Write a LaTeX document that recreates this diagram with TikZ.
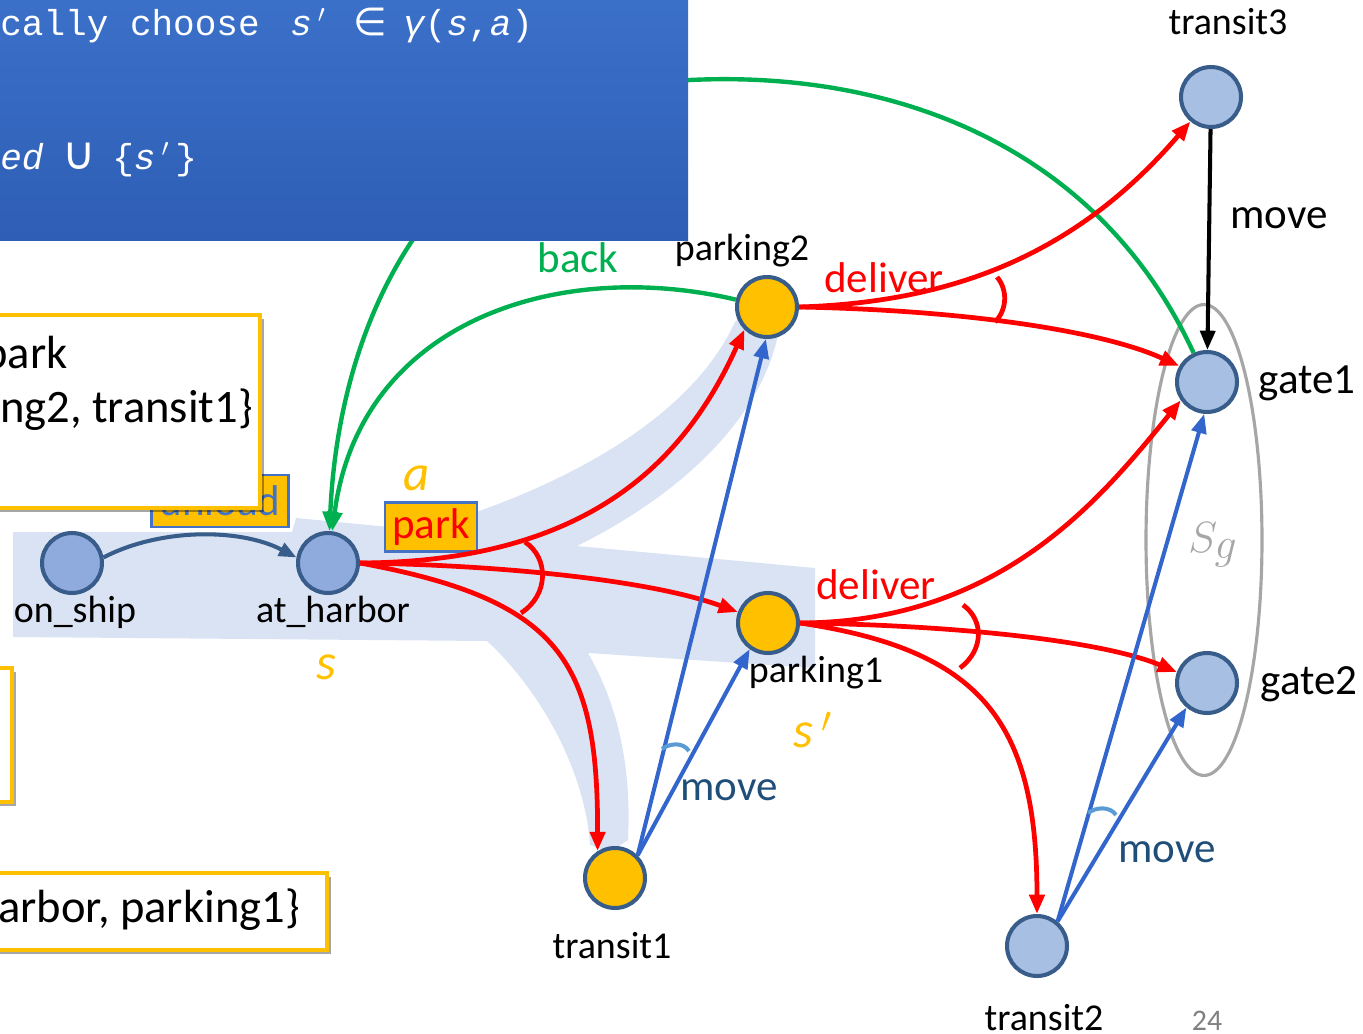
\documentclass[tikz,border=0pt]{standalone}
\usepackage{fontspec}
\setmainfont{Carlito}
\newfontfamily\codefont{Liberation Mono}
\newfontfamily\symfont{DejaVu Sans}
\usetikzlibrary{arrows.meta,shadows,calc}

\definecolor{bandblue}{HTML}{DAE3F3}
\definecolor{nodeedge}{HTML}{385D8A}
\definecolor{stateA}{HTML}{8FAADC}
\definecolor{stateB}{HTML}{A7BFE2}
\definecolor{gold}{HTML}{FFC000}
\definecolor{movblue}{HTML}{3366CC}
\definecolor{arcblue}{HTML}{5B9BD5}
\definecolor{movtext}{HTML}{1F4E79}
\definecolor{backgreen}{HTML}{00B050}
\definecolor{sggray}{HTML}{A6A6A6}
\definecolor{boxtop}{HTML}{3B70C9}
\definecolor{boxbot}{HTML}{2E5EB5}
\definecolor{unloadtxt}{HTML}{4472C4}
\definecolor{pagegray}{HTML}{808080}

\tikzset{
  state/.style={circle, draw=nodeedge, line width=2.3pt, minimum size=1.2cm, inner sep=0pt},
  goalstate/.style={state, fill=stateB},
  hstate/.style={state, fill=stateA},
  picked/.style={state, fill=gold},
  nlabel/.style={font=\fontsize{21.6}{24}\selectfont, inner sep=0pt},
  elabel/.style={font=\fontsize{24.5}{27}\selectfont, inner sep=0pt},
  calltext/.style={anchor=east, font=\fontsize{26.5}{30}\selectfont, inner sep=0pt},
  tip/.style={-{Triangle[length=11pt,width=8.5pt]}},
  redge/.style={draw=red, line width=2.7pt, tip},
  bedge/.style={draw=movblue, line width=2.3pt, tip},
  gedge/.style={draw=backgreen, line width=2.5pt, tip},
  andarc/.style={draw=red, line width=2.7pt},
  movearc/.style={draw=arcblue, line width=2.3pt},
  callout/.style={draw=gold, line width=2.2pt, fill=white,
    drop shadow={shadow xshift=2.5pt, shadow yshift=-2.5pt, fill=black, opacity=0.35}},
  actbox/.style={draw=unloadtxt, line width=1.2pt, fill=gold, inner sep=0pt},
  marker/.style={text=gold, font=\fontsize{29}{32}\selectfont\itshape, inner sep=0pt},
  codeline/.style={text=white, font=\codefont\fontsize{20.5}{24}\selectfont, inner sep=0pt, anchor=base west}
}

\begin{document}
\begin{tikzpicture}[x=0.02cm, y=-0.02cm]
\useasboundingbox (0,0) rectangle (1363,1034);

% highlighted region of explored states, with branches to parking2 and transit1
\fill[bandblue] (13,532) -- (292,532) -- (296,518) -- (420,530)
  .. controls (560,490) and (690,420) .. (735,322) -- (760,300) -- (778,335)
  .. controls (760,420) and (680,495) .. (577,546) -- (815,568) -- (815,668) -- (588,653)
  .. controls (615,700) and (632,760) .. (628,840) -- (610,852) -- (590,845)
  .. controls (585,770) and (540,690) .. (487,641) -- (13,637) -- cycle;

% action boxes
\node[actbox, minimum width=2.74cm, minimum height=1.04cm, text=unloadtxt, font=\fontsize{24.5}{27}\selectfont] (unload) at (220,501) {unload};
\node[actbox, minimum width=1.84cm, minimum height=0.98cm, text=red, font=\fontsize{24.5}{27}\selectfont] (park) at (431,527) {park};

% callouts
\draw[callout] (-20,315) rectangle (260,508);
\node[calltext] (c1a) at (68,356) {park};
\node[calltext] (c1b) at (253,410) {ng2, transit1\}};
\draw[callout] (-20,668) rectangle (12,802);
\draw[callout] (-20,873) rectangle (327,950);
\node[calltext] (c3) at (300,910) {arbor, parking1\}};

% goal set
\draw[sggray, line width=1.8pt] (1204,540) ellipse [x radius=1.16cm, y radius=4.71cm];
\node[text=sggray, font=\fontsize{34}{38}\selectfont, inner sep=0pt] (sg) at (1213,545) {$S_g$};

% states
\node[hstate] (onship) at (72,563) {};
\node[hstate] (harbor) at (328,563) {};
\node[picked] (parking2) at (767,307) {};
\node[picked] (parking1) at (768,623) {};
\node[picked] (transit1) at (615,878) {};
\node[goalstate] (transit3) at (1211,97) {};
\node[goalstate] (gate1) at (1207,382) {};
\node[goalstate] (gate2) at (1207,683) {};
\node[goalstate] (transit2) at (1037,946) {};

% state names
\node[nlabel] (lonship) at (75,612) {on\_ship};
\node[nlabel] (lharbor) at (333,612) {at\_harbor};
\node[nlabel] (lparking2) at (742,251) {parking2};
\node[nlabel] (lparking1) at (816,673) {parking1};
\node[nlabel] (ltransit1) at (612,946) {transit1};
\node[nlabel] (ltransit3) at (1228,22) {transit3};
\node[nlabel] (ltransit2) at (1044,1018) {transit2};
\node[elabel] (lgate1) at (1307,383) {gate1};
\node[elabel] (lgate2) at (1309,684) {gate2};

% back edge from gate1, passing behind the code panel
\draw[gedge] (gate1) .. controls (1100,150) and (900,70) .. (690,80)
                    .. controls (450,100) and (340,300) .. (harbor);

% pseudo-code panel
\shade[top color=boxtop, bottom color=boxbot] (0,0) rectangle (688,240);
\node[codeline] (code1) at (0,36) {cally choose};
\node[codeline] (code2) at (290,36) {{\itshape s}\,$'$};
\node[codeline] (code3) at (353,36) {\symfont\fontsize{22}{24}\selectfont ∈};
\node[codeline] (code4) at (403,36) {{\itshape γ}({\itshape s},{\itshape a})};
\node[codeline] (code5) at (0,170) {\itshape ed};
\node[codeline] (code6) at (62,170) {\symfont\fontsize{26}{28}\selectfont ∪};
\node[codeline] (code7) at (112,170) {\{{\itshape s}\,$'$\,\}};

% back edge from parking2
\draw[gedge] (parking2) .. controls (560,258) and (360,320) .. (harbor);
\node[elabel, text=backgreen] (lback) at (578,258) {back};

% unload
\draw[draw=nodeedge, line width=2.3pt, -{Triangle[length=10pt,width=8pt]}]
  (onship.10) .. controls (160,528) and (240,528) .. (harbor.170);

% park: nondeterministic outcomes
\draw[redge] (harbor.0) .. controls (600,562) and (690,450) .. (parking2.225);
\draw[redge] (harbor.0) .. controls (500,565) and (650,580) .. (parking1.160);
\draw[redge] (harbor.0) .. controls (560,600) and (598,660) .. (transit1.123);
\draw[andarc] (525,542) .. controls (549,558) and (549,595) .. (521,613);

% deliver from parking2
\draw[redge] (parking2.0) .. controls (960,302) and (1080,250) .. (transit3.230);
\draw[redge] (parking2.0) .. controls (960,310) and (1100,330) .. (gate1.150);
\draw[andarc] (997,277) .. controls (1008,290) and (1007,310) .. (995,322);
\node[elabel, text=red] (ldeliver2) at (884,278) {deliver};

% deliver from parking1
\draw[redge] (parking1.0) .. controls (1000,622) and (1100,500) .. (gate1.215);
\draw[redge] (parking1.0) .. controls (950,625) and (1100,640) .. (gate2.160);
\draw[redge] (parking1.0) .. controls (980,650) and (1037,720) .. (transit2.90);
\draw[andarc] (963,605) .. controls (984,620) and (984,650) .. (960,668);
\node[elabel, text=red] (ldeliver1) at (876,585) {deliver};

% move from transit1
\draw[bedge] (transit1.45) -- (parking2.268);
\draw[bedge] (transit1.45) -- (parking1.235);
\draw[movearc] (662,749) .. controls (670,743) and (683,742) .. (689,751);
\node[elabel, text=movtext] (lmove1) at (729,790) {move};

% move from transit2
\draw[bedge] (transit2.50) -- (gate1.265);
\draw[bedge] (transit2.50) -- (gate2.230);
\draw[movearc] (1088,813) .. controls (1096,807) and (1110,806) .. (1116,815);
\node[elabel, text=movtext] (lmove2) at (1167,852) {move};

% move from transit3
\draw[draw=black, line width=2.3pt, tip] (transit3) -- (gate1);
\node[elabel] (lmove3) at (1279,218) {move};

% markers
\node[marker] (ma) at (417,478) {a};
\node[marker] (ms) at (326,667) {s};
\node[marker] (msp) at (813,730) {s\,$'$};

% page number
\node[text=pagegray, font=\fontsize{17}{20}\selectfont, inner sep=0pt] (pnum) at (1207,1021) {24};
\end{tikzpicture}
\end{document}
